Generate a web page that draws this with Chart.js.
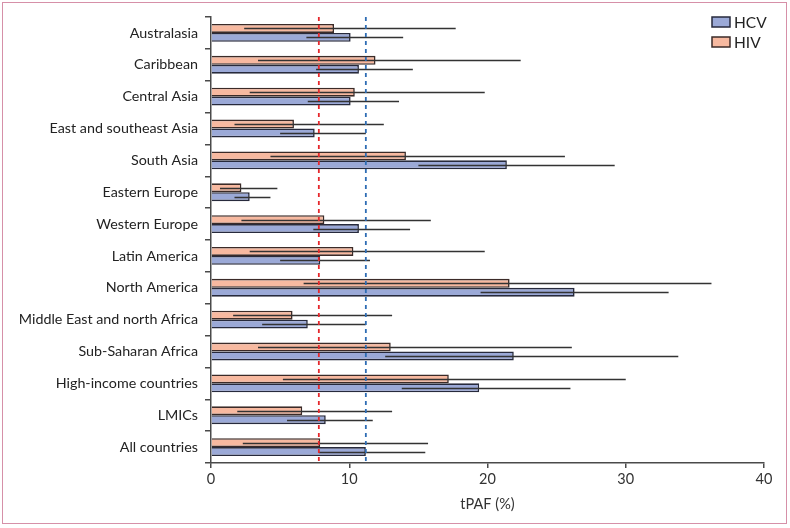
<!DOCTYPE html>
<html>
<head>
<meta charset="utf-8">
<script src="https://cdn.jsdelivr.net/npm/chart.js@4.4.1/dist/chart.umd.min.js"></script>
<style>
  html, body { margin: 0; padding: 0; background: #fff; }
  #wrap { position: relative; width: 790px; height: 528px; }
  #frame { position: absolute; left: 2px; top: 2px; width: 783px; height: 520px; border: 1.5px solid #d690a8; pointer-events: none; }
  canvas { position: absolute; left: 0; top: 0; }
</style>
</head>
<body>
<div id="wrap">
  <canvas id="c" width="790" height="528"></canvas>
  <div id="frame"></div>
</div>
<script>
const categories = ['Australasia', 'Caribbean', 'Central Asia', 'East and southeast Asia', 'South Asia',
  'Eastern Europe', 'Western Europe', 'Latin America', 'North America', 'Middle East and north Africa',
  'Sub-Saharan Africa', 'High-income countries', 'LMICs', 'All countries'];

const hivValues = [8.9, 11.9, 10.4, 6.0, 14.1, 2.2, 8.2, 10.3, 21.6, 5.9, 13.0, 17.2, 6.6, 7.9];
const hivLow    = [2.4, 3.4, 2.8, 1.7, 4.3, 0.65, 2.2, 2.8, 6.7, 1.6, 3.4, 5.2, 1.9, 2.3];
const hivHigh   = [17.7, 22.4, 19.8, 12.5, 25.6, 4.8, 15.9, 19.8, 36.2, 13.1, 26.1, 30.0, 13.1, 15.7];

const hcvValues = [10.1, 10.7, 10.1, 7.5, 21.4, 2.8, 10.7, 7.9, 26.3, 7.0, 21.9, 19.4, 8.3, 11.2];
const hcvLow    = [6.9, 7.6, 7.0, 5.0, 15.0, 1.7, 7.4, 5.0, 19.5, 3.7, 12.6, 13.8, 5.5, 7.8];
const hcvHigh   = [13.9, 14.6, 13.6, 11.2, 29.2, 4.3, 14.4, 11.5, 33.1, 11.2, 33.8, 26.0, 11.7, 15.5];

const hivRef = 7.8;
const hcvRef = 11.2;

const xTicks = [0, 10, 20, 30, 40];

const FONT = 'Lato, "Open Sans", sans-serif';
const HIV_FILL = '#f7b9a0', HIV_BORDER = '#3b2b28';
const HCV_FILL = '#9ba9d7', HCV_BORDER = '#272a3c';
const AXIS = '#4a4a4a';

const errorBars = {
  id: 'errorBars',
  afterDatasetsDraw(chart) {
    const ctx = chart.ctx, x = chart.scales.x;
    const sets = [[hivLow, hivHigh], [hcvLow, hcvHigh]];
    ctx.save();
    ctx.strokeStyle = '#333';
    ctx.lineWidth = 1.6;
    chart.data.datasets.forEach((ds, di) => {
      const meta = chart.getDatasetMeta(di);
      meta.data.forEach((bar, i) => {
        const y = Math.round(bar.y) + 0.5;
        ctx.beginPath();
        ctx.moveTo(x.getPixelForValue(sets[di][0][i]), y);
        ctx.lineTo(x.getPixelForValue(sets[di][1][i]), y);
        ctx.stroke();
      });
    });
    // reference lines
    const a = chart.chartArea;
    [[hivRef, '#e5282c'], [hcvRef, '#2e6db4']].forEach(([v, col]) => {
      const px = x.getPixelForValue(v);
      ctx.beginPath();
      ctx.setLineDash([4, 4]);
      ctx.strokeStyle = col;
      ctx.lineWidth = 1.8;
      ctx.moveTo(px, a.top);
      ctx.lineTo(px, a.bottom);
      ctx.stroke();
    });
    ctx.setLineDash([]);
    // legend
    const items = [['HCV', HCV_FILL, HCV_BORDER], ['HIV', HIV_FILL, HIV_BORDER]];
    ctx.font = '15.5px ' + FONT;
    ctx.textBaseline = 'middle';
    ctx.textAlign = 'left';
    items.forEach(([label, fill, border], k) => {
      const top = 17 + k * 20;
      ctx.fillStyle = fill;
      ctx.fillRect(712, top, 18, 10);
      ctx.strokeStyle = border;
      ctx.lineWidth = 1.5;
      ctx.strokeRect(712, top, 18, 10);
      ctx.fillStyle = '#222';
      ctx.fillText(label, 734, top + 6);
    });
    ctx.restore();
  }
};

new Chart(document.getElementById('c'), {
  type: 'bar',
  data: {
    labels: categories,
    datasets: [
      { label: 'HIV', data: hivValues, backgroundColor: HIV_FILL, borderColor: HIV_BORDER, borderWidth: 1.6,
        categoryPercentage: 0.56, barPercentage: 1.0 },
      { label: 'HCV', data: hcvValues, backgroundColor: HCV_FILL, borderColor: HCV_BORDER, borderWidth: 1.6,
        categoryPercentage: 0.56, barPercentage: 1.0 }
    ]
  },
  options: {
    indexAxis: 'y',
    responsive: false,
    animation: false,
    devicePixelRatio: 1,
    layout: { padding: { left: 0, right: 26, top: 17, bottom: 0 } },
    plugins: { legend: { display: false }, tooltip: { enabled: false } },
    scales: {
      x: {
        min: 0, max: 40,
        afterBuildTicks(s) { s.ticks = xTicks.map(v => ({ value: v })); },
        afterFit(s) { s.height = 65; },
        grid: { drawOnChartArea: false, drawTicks: true, tickLength: 5, color: AXIS, lineWidth: 1.5 },
        border: { display: true, color: AXIS, width: 1.5 },
        ticks: { color: '#333', font: { family: FONT, size: 14.5 }, padding: 3 },
        title: { display: true, text: 'tPAF (%)', color: '#333', font: { family: FONT, size: 14.5 }, padding: { top: 0, bottom: 15 } }
      },
      y: {
        offset: true,
        afterFit(s) { s.width = 211; },
        grid: { offset: true, drawOnChartArea: false, drawTicks: true, tickLength: 6, color: AXIS, lineWidth: 1.5 },
        border: { display: true, color: AXIS, width: 1.5 },
        ticks: { color: '#222', font: { family: FONT, size: 14.3 }, padding: 7, autoSkip: false }
      }
    }
  },
  plugins: [errorBars]
});
</script>
</body>
</html>
